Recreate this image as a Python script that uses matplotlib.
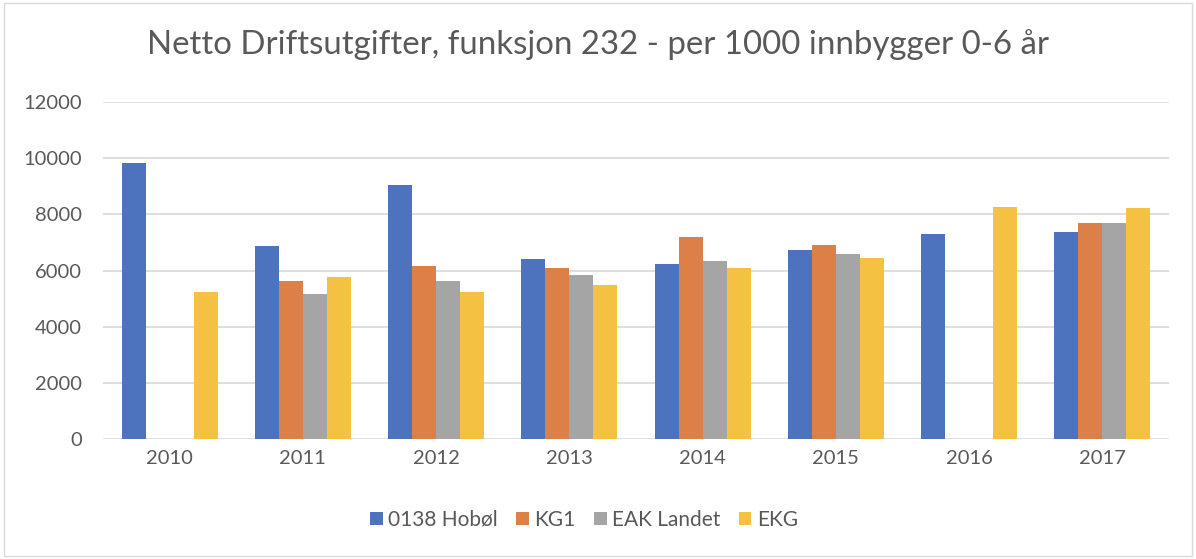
import matplotlib.pyplot as plt
import numpy as np
from matplotlib.patches import Rectangle

years = ['2010', '2011', '2012', '2013', '2014', '2015', '2016', '2017']
series = ['0138 Hobøl', 'KG1', 'EAK Landet', 'EKG']
hobol = [9820, 6860, 9050, 6400, 6220, 6720, 7300, 7370]
kg1 = [np.nan, 5620, 6150, 6080, 7180, 6920, np.nan, 7680]
eak = [np.nan, 5170, 5620, 5830, 6340, 6600, np.nan, 7680]
ekg = [5240, 5760, 5240, 5500, 6080, 6460, 8260, 8220]
colors = ['#4e73be', '#dd8047', '#a5a5a5', '#f4c143']

plt.rcParams['font.family'] = ['Lato', 'DejaVu Sans']
fig = plt.figure(figsize=(11.96, 5.59), dpi=100)
ax = fig.add_axes([103/1196, 1-438.7/559, (1169-103)/1196, (438.7-102.3)/559])

x = np.arange(len(years))
w = 0.18
for i, (name, vals) in enumerate(zip(series, [hobol, kg1, eak, ekg])):
    ax.bar(x + (i - 1.5)*w, vals, width=w, color=colors[i], label=name, zorder=3)

ax.set_xlim(-0.5, len(years) - 0.5)
ax.set_ylim(0, 12000)
ax.set_yticks(range(0, 12001, 2000))
ax.set_xticks(x)
ax.set_xticklabels(years)
ax.grid(axis='y', color='#d9d9d9', linewidth=1.2, zorder=0)
for s in ax.spines.values():
    s.set_visible(False)
ax.tick_params(length=0, labelsize=14.5, colors='#595959', pad=8)
ax.tick_params(axis='y', pad=15)

fig.suptitle('Netto Driftsutgifter, funksjon 232 - per 1000 innbygger 0-6 år',
             fontsize=23.8, color='#595959', y=1-45/559, va='center')
fig.legend(loc='center', bbox_to_anchor=(584/1196, 1-520/559), ncol=4, frameon=False,
           fontsize=15, labelcolor='#595959', handlelength=0.6, handleheight=0.6,
           handletextpad=0.25, columnspacing=0.9)
fig.patches.append(Rectangle((4/1196, 0.005), 1 - 8/1196, 0.99, transform=fig.transFigure,
                             fill=False, edgecolor='#d9d9d9', linewidth=1))

fig.savefig('out.png', dpi=100)
